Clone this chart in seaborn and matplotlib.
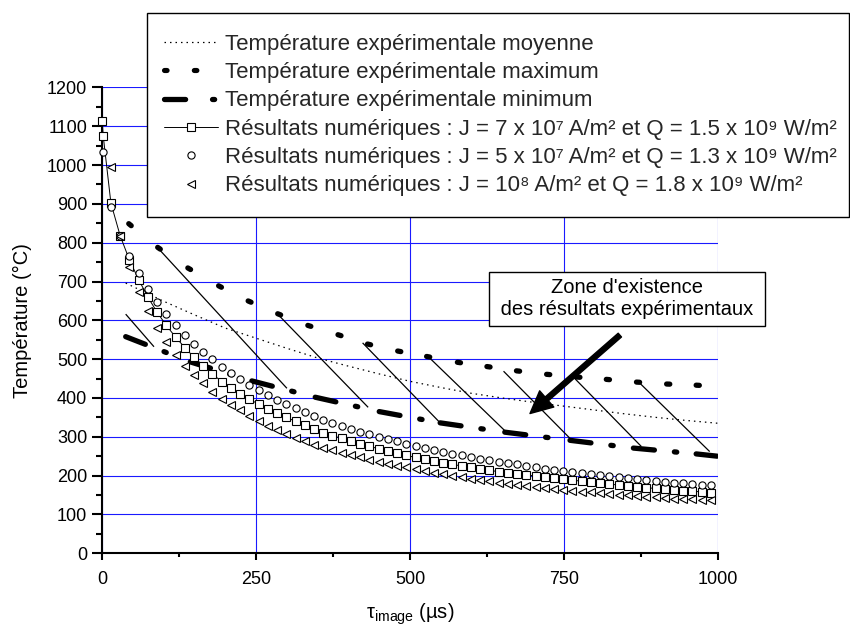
import numpy as np
import matplotlib
matplotlib.use('Agg')
import matplotlib.pyplot as plt
import seaborn as sns
from matplotlib.lines import Line2D
from matplotlib.patches import Rectangle
from matplotlib.collections import LineCollection
from matplotlib.ticker import MultipleLocator

sns.set_theme(style='ticks')
plt.rcParams['font.family'] = ['Liberation Sans', 'DejaVu Sans']
plt.rcParams['mathtext.fontset'] = 'custom'
plt.rcParams['mathtext.rm'] = 'Liberation Sans'
plt.rcParams['mathtext.it'] = 'Liberation Sans:italic'
plt.rcParams['mathtext.bf'] = 'Liberation Sans:bold'
plt.rcParams['mathtext.default'] = 'regular'

# %% données lues sur la figure
# température expérimentale moyenne
tau_moy = [38, 100, 150, 200, 250, 300, 350, 400, 450, 500, 550, 600, 650, 700, 750, 800, 850, 900, 950, 1000]
t_moy = [696, 649, 614, 580, 554, 528, 503, 482, 462, 443, 427, 412, 400, 389, 379, 369, 359, 350, 342, 335]

# température expérimentale maximum
tau_max = [43, 90, 139, 189, 237, 285, 334, 383, 431, 480, 527, 577, 625, 673, 722, 771, 819, 868, 917, 965, 1000]
t_max = [849, 788, 735, 689, 650, 617, 587, 563, 539, 521, 507, 492, 481, 470, 461, 454, 448, 441, 436, 433, 430]

# température expérimentale minimum
tau_min = [38, 143, 243, 346, 450, 549, 654, 760, 863, 965, 1000]
t_min = [558, 493, 444, 402, 365, 336, 312, 291, 271, 256, 250]

# résultats numériques (pas de 15 µs)
tau_num = np.arange(14, 1000, 15)
t_j7 = [1114, 1075,
        902, 818, 756, 705, 660, 621, 587, 557, 530, 505, 483, 462, 442, 425, 410, 397, 384, 372,
        361, 350, 340, 330, 320, 311, 303, 296, 289, 282, 276, 269, 264, 258, 252, 247, 243, 238,
        233, 229, 225, 221, 217, 214, 210, 207, 204, 202, 199, 196, 193, 191, 188, 186, 183, 181,
        178, 176, 174, 172, 169, 167, 165, 163, 161, 160, 158, 156]
t_j5 = [1034,
        892, 818, 766, 721, 682, 647, 616, 588, 563, 539, 519, 500, 481, 464, 448, 434, 420, 407,
        395, 384, 373, 363, 353, 344, 336, 328, 320, 313, 306, 300, 294, 288, 282, 276, 271, 266,
        261, 256, 252, 248, 244, 240, 236, 233, 229, 226, 222, 218, 215, 213, 210, 207, 204, 202,
        199, 196, 194, 191, 189, 186, 184, 182, 180, 178, 177, 175]
t_j10 = [996, 818, 737, 674, 623, 581, 543, 511, 483, 459, 438, 416, 397, 382, 368, 354, 341, 329,
         318, 308, 298, 289, 280, 272, 265, 259, 253, 247, 241, 236, 231, 226, 221, 216, 212, 207,
         203, 199, 196, 192, 188, 185, 182, 178, 176, 173, 172, 169, 166, 164, 161, 159, 157, 155,
         153, 151, 149, 147, 146, 144, 143, 141, 140, 139, 138, 137]
tau_j7 = [0, 1.5] + list(tau_num)
tau_j5 = [1.5] + list(tau_num)
tau_j10 = list(tau_num)

# hachures de la zone d'existence (début -> fin)
hatch_tau0 = [38, 90, 285, 423, 530, 652, 766, 871]
hatch_t0 = [616, 787, 616, 542, 506, 469, 453, 442]
hatch_tau1 = [84, 300, 432, 549, 654, 760, 876, 987]
hatch_t1 = [532, 425, 376, 336, 316, 296, 275, 262]

labels = ['Température expérimentale moyenne',
          'Température expérimentale maximum',
          'Température expérimentale minimum',
          'Résultats numériques : J = 7 x 10⁷ A/m² et Q = 1.5 x 10⁹ W/m²',
          'Résultats numériques : J = 5 x 10⁷ A/m² et Q = 1.3 x 10⁹ W/m²',
          'Résultats numériques : J = 10⁸ A/m² et Q = 1.8 x 10⁹ W/m²']

# %% figure
fig = plt.figure(figsize=(8.5, 6.28), dpi=100)
ax = fig.add_axes([0.12035, 0.11895, 0.7240, 0.74188])

dot_style = (0, (1.2, 3.2))
mk = dict(markersize=5.2, markerfacecolor='white', markeredgecolor='black', markeredgewidth=0.8)

# hachures
hatch = [[(a, b), (c, d)] for a, b, c, d in zip(hatch_tau0, hatch_t0, hatch_tau1, hatch_t1)]
ax.add_collection(LineCollection(hatch, colors='black', linewidths=0.9, zorder=3))

sns.lineplot(x=tau_moy, y=t_moy, ax=ax, color='black', lw=0.9, linestyle=dot_style, zorder=4)

# max : un point au début de chaque segment, min : tiret + point
seg_max = [[(tau_max[i], t_max[i]), (tau_max[i + 1], t_max[i + 1])] for i in range(len(tau_max) - 1)]
seg_min = [[(tau_min[i], t_min[i]), (tau_min[i + 1], t_min[i + 1])] for i in range(len(tau_min) - 1)]
ax.add_collection(LineCollection(seg_max, colors='black', linewidths=3.8,
                                 linestyles=[(0, (0.6, 60))], capstyle='round', zorder=4))
ax.add_collection(LineCollection(seg_min, colors='black', linewidths=3.8,
                                 linestyles=[(0, (4.0, 3.8, 0.45, 60))], capstyle='round', zorder=4))

sns.lineplot(x=tau_j7, y=t_j7, ax=ax, color='black', lw=0.7, marker='s', clip_on=False, zorder=5, **mk)
sns.lineplot(x=tau_j5, y=t_j5, ax=ax, color='black', linestyle='none', marker='o', clip_on=False, zorder=5, **mk)
sns.lineplot(x=tau_j10, y=t_j10, ax=ax, color='black', linestyle='none', marker='<', clip_on=False, zorder=5, **mk)

# axes
ax.set_xlim(0, 1000)
ax.set_ylim(0, 1200)
ax.xaxis.set_major_locator(MultipleLocator(250))
ax.xaxis.set_minor_locator(MultipleLocator(125))
ax.yaxis.set_major_locator(MultipleLocator(100))
ax.yaxis.set_minor_locator(MultipleLocator(50))
sns.despine(ax=ax)
for s in ['left', 'bottom']:
    ax.spines[s].set_linewidth(1.5)
    ax.spines[s].set_color('black')
ax.tick_params(which='both', direction='out', width=1.5, color='black', labelsize=13,
               labelcolor='black', bottom=True, left=True)
ax.tick_params(axis='x', which='major', length=5, pad=7.5)
ax.tick_params(axis='x', which='minor', length=3)
ax.tick_params(axis='y', which='major', length=7.5, pad=3.4)
ax.tick_params(axis='y', which='minor', length=4)
ax.grid(True, which='major', color='#1a1aff', lw=0.8)
ax.set_axisbelow(True)
fig.canvas.draw()
xg = ax.xaxis.get_gridlines()
yg = ax.yaxis.get_gridlines()
for g in [xg[0], xg[-1], yg[0], yg[-1]]:
    g.set_visible(False)

ax.set_xlabel('τ$_{image}$ (µs)', fontsize=14.5, color='black', labelpad=10)
ax.set_ylabel('Température (°C)', fontsize=14.5, color='black')
ax.yaxis.set_label_coords(-0.114, 0.5)

# légende (cadre dessiné à part, au niveau de la figure)
fig.patches.append(Rectangle((147 / 850, 1 - 217 / 628), 702 / 850, 204 / 628, transform=fig.transFigure,
                             facecolor='white', edgecolor='black', lw=1.0, zorder=1.5))
handles = [
    Line2D([], [], color='black', lw=0.9, linestyle=dot_style),
    Line2D([], [], color='black', lw=3.7, linestyle=(0, (0.5, 5.3)), dash_capstyle='round'),
    Line2D([], [], color='black', lw=3.8, linestyle=(0, (4.0, 5.1, 0.4, 10)), dash_capstyle='round'),
    Line2D([], [], color='black', lw=0.7, marker='s', **mk),
    Line2D([], [], linestyle='none', marker='o', **mk),
    Line2D([], [], linestyle='none', marker='<', **mk),
]
leg = fig.legend(handles, labels, loc='upper left', bbox_to_anchor=(147 / 850, 1 - 17 / 628),
                 fontsize=16.0, frameon=False, handlelength=2.45, handletextpad=0.3,
                 labelspacing=0.33, borderpad=0.75, borderaxespad=0, numpoints=1)
leg.set_zorder(2)

# zone d'existence
ax.text(852, 655, "Zone d'existence\n des résultats expérimentaux ", fontsize=14.5, ha='center', va='center',
        color='black', bbox=dict(boxstyle='square,pad=0.3', fc='white', ec='black', lw=1.0), zorder=10)
ax.annotate('', xy=(695, 360), xytext=(841, 562),
            arrowprops=dict(facecolor='black', edgecolor='black', width=3.6, headwidth=15.5,
                            headlength=16, shrink=0), zorder=10)

fig.savefig('out.png', dpi=100)
